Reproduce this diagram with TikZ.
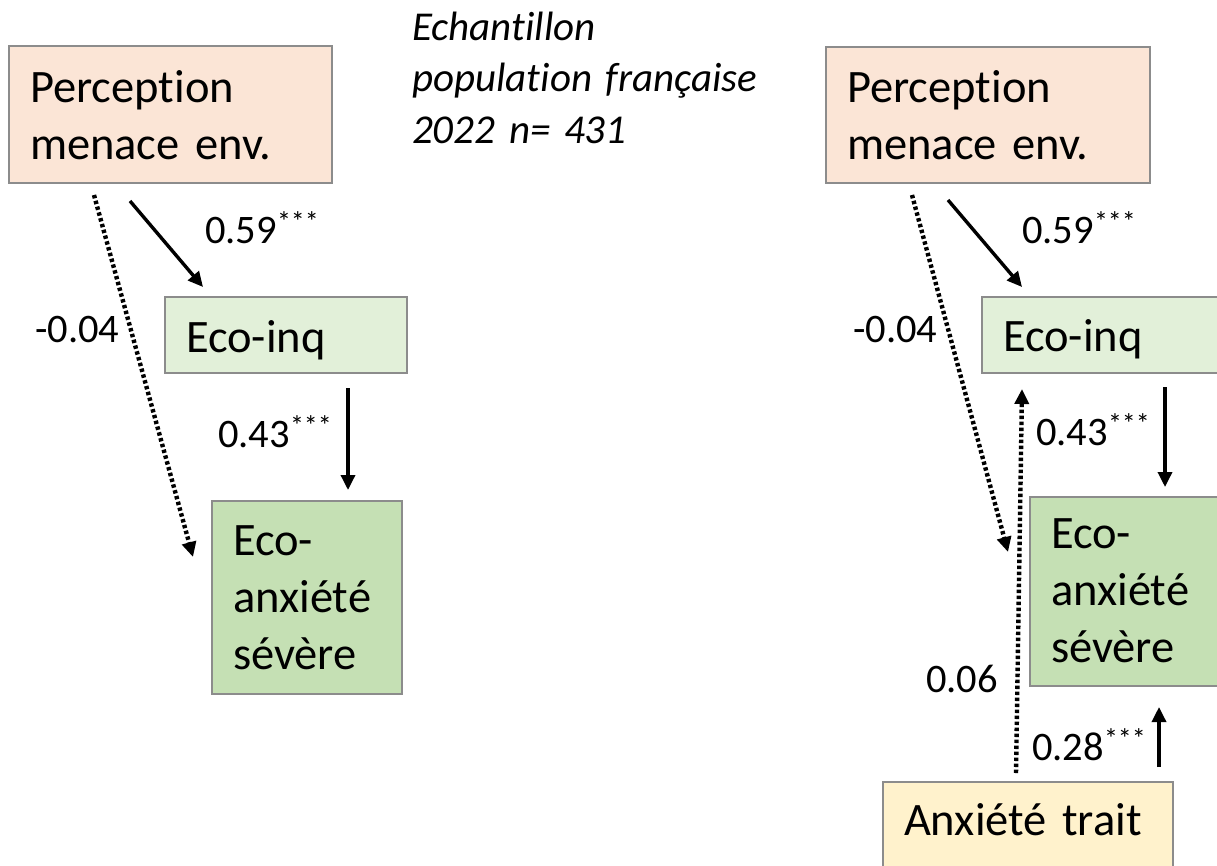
\documentclass[tikz,border=0pt]{standalone}
\usepackage{fontspec}
\setmainfont{Carlito}[Ligatures={NoCommon}]
\usetikzlibrary{arrows.meta}
\definecolor{peach}{HTML}{FBE5D6}
\definecolor{lgreen}{HTML}{E2F0D9}
\definecolor{mgreen}{HTML}{C5E0B4}
\definecolor{lgold}{HTML}{FFF2CC}
\definecolor{bordergray}{HTML}{8C8C8C}
\newcommand{\tightspace}{\spaceskip=0.2em plus 0.05em\relax}
\tikzset{
  box/.style={draw=bordergray, line width=1.6pt, anchor=north west, inner xsep=21pt, inner ysep=0pt, outer sep=0pt, align=left, font=\fontsize{46.5}{57}\selectfont\tightspace},
  lab/.style={anchor=base west, inner sep=0pt, font=\fontsize{40.5}{48}\selectfont},
  solidarr/.style={line width=3.4pt, -{Triangle[length=15pt,width=14pt]}},
  dotarr/.style={line width=4.4pt, dash pattern=on 3.4pt off 2.6pt, -{Triangle[length=15pt,width=14pt]}}
}
\newcommand{\stars}{\raisebox{12pt}{\fontsize{28}{28}\selectfont ***}}
\begin{document}
\begin{tikzpicture}[x=1pt,y=-1pt]
\useasboundingbox (0,0) rectangle (1217,865);
\clip (0,0) rectangle (1217,865);
% title
\node[anchor=base west, inner sep=0pt, text width=380pt, align=left, font=\fontsize{41}{51.5}\selectfont\itshape\tightspace] (title) at (412,40) {Echantillon\\population française\\2022 n= 431};
% left model
\node[box, fill=peach, text width=281pt, text height=56pt, text depth=81pt] (P1) at (9,46) {Perception\\menace env.};
\node[box, fill=lgreen, text width=200pt, text height=55pt, text depth=21pt] (EI1) at (165,297) {Eco-inq};
\node[box, fill=mgreen, text width=148pt, text height=54pt, text depth=139pt] (EA1) at (212,501) {Eco-\\anxiété\\sévère};
\draw[solidarr] ([shift={(121,18)}]P1.south west) -- ([shift={(38,-10)}]EI1.north west);
\draw[dotarr] ([shift={(85,12)}]P1.south west) -- ([shift={(-19,56)}]EA1.north west);
\draw[solidarr] ([shift={(183,15)}]EI1.south west) -- ([shift={(136,-11)}]EA1.north west);
\node[lab] (l1) at (205,243) {0.59\stars};
\node[lab] (l2) at (35,342) {-0.04};
\node[lab] (l3) at (218,447) {0.43\stars};
% right model
\node[box, fill=peach, text width=282pt, text height=55pt, text depth=81pt] (P2) at (826,47) {Perception\\menace env.};
\node[box, fill=lgreen, text width=200pt, text height=54pt, text depth=22pt] (EI2) at (982,297) {Eco-inq};
\node[box, fill=mgreen, text width=148pt, text height=51pt, text depth=138pt] (EA2) at (1030,497) {Eco-\\anxiété\\sévère};
\node[box, fill=lgold, text width=248pt, text height=53pt, text depth=40pt] (AT) at (883,782) {Anxiété trait};
\draw[solidarr] ([shift={(122,17)}]P2.south west) -- ([shift={(40,-10)}]EI2.north west);
\draw[dotarr] ([shift={(86,12)}]P2.south west) -- ([shift={(-22,55)}]EA2.north west);
\draw[solidarr] ([shift={(183,14)}]EI2.south west) -- ([shift={(135,-10)}]EA2.north west);
\draw[dotarr] ([shift={(133,-9)}]AT.north west) -- ([shift={(40,16)}]EI2.south west);
\draw[solidarr] ([shift={(276,-15)}]AT.north west) -- ([shift={(129,21)}]EA2.south west);
\node[lab] (r1) at (1022,243) {0.59\stars};
\node[lab] (r2) at (853,342) {-0.04};
\node[lab] (r3) at (1036,445) {0.43\stars};
\node[lab] (r4) at (926,692) {0.06};
\node[lab] (r5) at (1032,760) {0.28\stars};
\end{tikzpicture}
\end{document}
